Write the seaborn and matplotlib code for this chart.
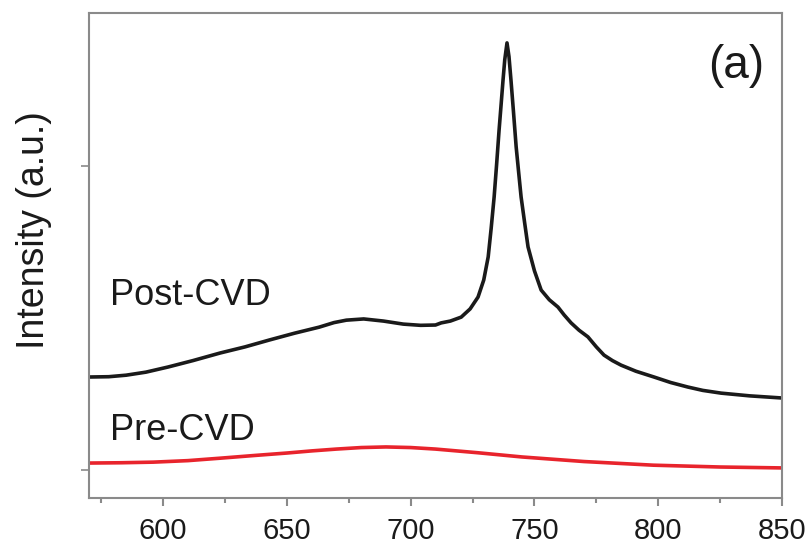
import numpy as np
import pandas as pd
import matplotlib
matplotlib.use("Agg")
import matplotlib.pyplot as plt
import seaborn as sns
from matplotlib.ticker import MultipleLocator

# Wavelength (nm) and intensity (a.u.)
post_x = [570, 578, 585, 593, 602, 612, 623, 633, 643, 653, 663, 669, 674, 681,
          689, 697, 704, 710, 712.3, 716, 720.4, 724, 727.2, 729.5, 731.3,
          732.5, 733.7, 734.7, 735.7, 736.5, 737.3, 738, 738.9, 739.7, 740.5,
          741.5, 742.6, 743.6, 744.6, 746, 747.4, 750, 752.7, 756, 759.5, 762,
          764.8, 768, 771.6, 775, 778.1, 781.5, 785, 791, 798.3, 805, 812, 818,
          825.4, 837, 850]
post_y = [306, 307, 312, 322, 339, 360, 385, 405, 428, 450, 470, 485, 493, 497,
          490, 480, 476, 477, 484, 490, 503, 530, 569, 625, 701,
          795, 898, 1005, 1118, 1200, 1283, 1350, 1405, 1360, 1283,
          1180, 1063, 980, 898, 815, 734, 655, 592, 560, 536, 510,
          484, 460, 438, 405, 378, 360, 345, 325, 306, 288, 273, 262,
          253, 244, 237]

pre_x = [570, 583, 596, 610, 623, 637, 650, 660, 670, 680, 690, 700, 710, 727,
         745, 770, 798, 825, 850]
pre_y = [23, 24, 26, 31, 39, 48, 56, 63, 69, 74, 76, 74, 69, 57,
         43, 28, 16, 10, 7]

xticks = [600, 650, 700, 750, 800, 850]
yticks = [0, 1000]

sns.set_style("ticks")
plt.rcParams['font.family'] = ['Liberation Sans', 'DejaVu Sans']

fig = plt.figure(figsize=(8.12, 5.45), dpi=100)
ax = fig.add_axes([0.1096, 0.0862, 0.963 - 0.1096, 0.976 - 0.0862])

post = pd.DataFrame({"x": post_x, "y": post_y})
pre = pd.DataFrame({"x": pre_x, "y": pre_y})
sns.lineplot(data=post, x="x", y="y", ax=ax, color="#1a1a1a", linewidth=2.6)
sns.lineplot(data=pre, x="x", y="y", ax=ax, color="#e8242c", linewidth=2.6)

ax.set_xlim(570, 850)
ax.set_ylim(-92, 1503)
ax.set_xticks(xticks)
ax.set_xticklabels([str(t) for t in xticks])
ax.xaxis.set_minor_locator(MultipleLocator(25))
ax.set_yticks(yticks)
ax.set_yticklabels(["", ""])
ax.set_xlabel("")
ax.set_ylabel("Intensity (a.u.)", fontsize=27, color="#1a1a1a")
ax.yaxis.set_label_coords(-0.053, 0.553)

for s in ax.spines.values():
    s.set_color("#8a8a8a")
    s.set_linewidth(1.5)
ax.tick_params(axis="x", which="major", length=6, width=1.5, color="#8a8a8a",
               labelsize=21, labelcolor="#1a1a1a", pad=8)
ax.tick_params(axis="x", which="minor", length=3.5, width=1.5, color="#8a8a8a")
ax.tick_params(axis="y", which="major", length=6, width=1.2, color="#8a8a8a")

ax.text(0.03, 0.418, "Post-CVD", transform=ax.transAxes, fontsize=26,
        color="#1a1a1a", va="center", ha="left")
ax.text(0.03, 0.14, "Pre-CVD", transform=ax.transAxes, fontsize=26,
        color="#1a1a1a", va="center", ha="left")
ax.text(0.975, 0.89, "(a)", transform=ax.transAxes, fontsize=33,
        color="#1a1a1a", va="center", ha="right")

fig.savefig("out.png", dpi=100)
